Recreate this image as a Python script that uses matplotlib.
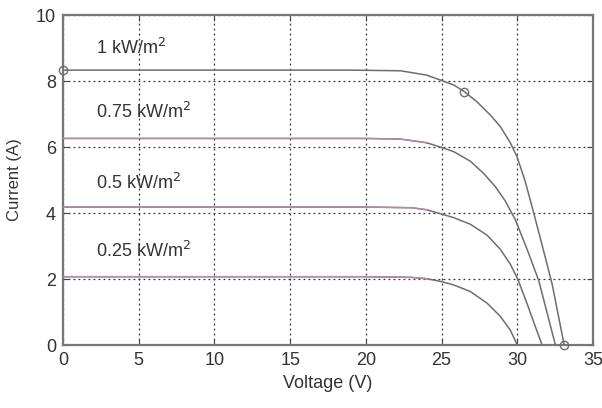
import matplotlib.pyplot as plt
import numpy as np

# I-V curves, one per irradiance level
v_100 = [0, 5, 10, 15, 19, 22.3, 24, 24.92, 25.8, 26.5, 27.34, 28.22, 28.88, 29.54,
         29.99, 30.53, 31.0, 31.6, 32.3, 33.1]
i_100 = [8.33, 8.33, 8.33, 8.33, 8.33, 8.31, 8.18, 8.03, 7.88, 7.68, 7.37, 6.97, 6.62, 6.13,
         5.7, 4.95, 4.15, 3.1, 1.85, 0]

v_75 = [0, 20, 22.3, 24, 24.92, 25.8, 26.9, 27.78, 28.55, 29.2, 29.87, 30.65, 31.42, 32.52]
i_75 = [6.26, 6.26, 6.24, 6.13, 6.0, 5.86, 5.57, 5.2, 4.8, 4.37, 3.8, 2.9, 1.95, 0]

v_50 = [0, 20, 23, 24, 24.92, 25.8, 26.9, 28.0, 28.88, 29.54, 30.03, 30.65, 31.2, 31.64]
i_50 = [4.18, 4.18, 4.16, 4.1, 3.98, 3.86, 3.66, 3.33, 2.9, 2.45, 2.0, 1.25, 0.55, 0]

v_25 = [0, 20, 23, 24, 24.92, 25.8, 26.9, 28.0, 28.88, 29.54, 30.0]
i_25 = [2.07, 2.07, 2.05, 2.01, 1.93, 1.82, 1.62, 1.27, 0.87, 0.45, 0]

labels = ['1 kW/m$^2$', '0.75 kW/m$^2$', '0.5 kW/m$^2$', '0.25 kW/m$^2$']
label_y = [9.0, 7.05, 4.9, 2.85]

# open circles: Isc, MPP, Voc of the 1 kW/m2 curve
mark_v = [0, 26.5, 33.1]
mark_i = [8.33, 7.68, 0]

plt.rcParams['font.family'] = ['Liberation Sans', 'DejaVu Sans']

fig = plt.figure(figsize=(6.02, 4.08), dpi=100)
ax = fig.add_axes([0.1047, 0.1544, 0.8803, 0.8088])

curves = [(v_100, i_100), (v_75, i_75), (v_50, i_50), (v_25, i_25)]
for k, (v, i) in enumerate(curves):
    ax.plot(v, i, color='#6e6e6e', lw=1.1, zorder=3)
    if k > 0:
        v = np.array(v)
        i = np.array(i)
        m = v <= 24
        ax.plot(v[m], i[m], color='#b88ab0', lw=1.0, zorder=4)

ax.plot(mark_v, mark_i, 'o', mfc='none', mec='#6e6e6e', ms=6, mew=1.0,
        zorder=5, clip_on=False)

for t, y in zip(labels, label_y):
    ax.text(2.2, y, t, fontsize=13, color='#333333', va='center')

ax.set_xlim(0, 35)
ax.set_ylim(0, 10)
ax.set_xticks(range(0, 36, 5))
ax.set_yticks(range(0, 11, 2))
ax.grid(True, color='#333333', linestyle=(0, (1.5, 2.5)), lw=0.9)
ax.tick_params(direction='in', top=True, right=True, length=4, pad=5,
               labelsize=13, colors='#444444', labelcolor='#333333')
for s in ax.spines.values():
    s.set_color('#777777')
    s.set_linewidth(1.6)

ax.set_xlabel('Voltage (V)', fontsize=13, color='#333333', labelpad=4)
ax.set_ylabel('Current (A)', fontsize=12, color='#333333', labelpad=10)

fig.savefig('out.png', dpi=100)
